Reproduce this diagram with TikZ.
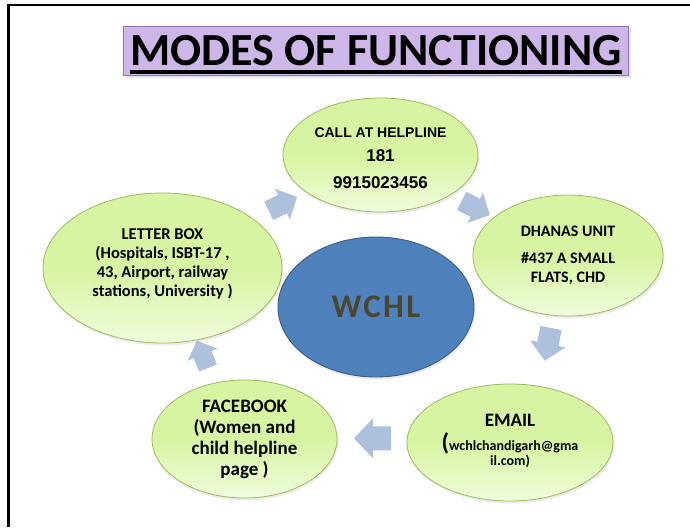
\documentclass[tikz,border=0pt]{standalone}
\usepackage{fontspec}
\setmainfont{Carlito}
\newfontfamily\arialfont{Liberation Sans}
\usetikzlibrary{shapes.geometric,shadows}
\definecolor{gtop}{HTML}{D7F4A2}
\definecolor{gbot}{HTML}{EFFCDC}
\definecolor{gborder}{HTML}{9BBB59}
\definecolor{bfill}{HTML}{4F81BD}
\definecolor{bborder}{HTML}{385D8A}
\definecolor{arrowc}{HTML}{ADC0DC}
\definecolor{tfill}{HTML}{CCB7E8}
\definecolor{tborder}{HTML}{8E72BE}
\definecolor{wtext}{HTML}{4A4631}
\tikzset{
  greenell/.style={ellipse, draw=gborder, line width=0.8pt, top color=gtop, bottom color=gbot, middle color=gtop,
    inner sep=0pt, align=center, drop shadow={opacity=0.15, shadow xshift=1pt, shadow yshift=-2.5pt}},
  blueell/.style={ellipse, draw=bborder, line width=0.9pt, fill=bfill, inner sep=0pt,
    drop shadow={opacity=0.15, shadow xshift=1pt, shadow yshift=-2.5pt}},
  titlebox/.style={draw=tborder, line width=0.8pt, fill=tfill, inner sep=0pt,
    drop shadow={opacity=0.2, shadow xshift=2.5pt, shadow yshift=-2.5pt}},
  blockarr/.pic={\fill[arrowc] (0,-12) -- (18,-12) -- (18,-20) -- (37,0) -- (18,20) -- (18,12) -- (0,12) -- cycle;}
}
\begin{document}
\begin{tikzpicture}[x=1pt,y=-1pt]
\useasboundingbox (0,0) rectangle (690,527);
\fill[white] (0,0) rectangle (690,527);
% frame
\draw[line width=2.6pt] (8.6,527) -- (8.6,5.2) -- (690,5.2);
% title
\node[titlebox, minimum width=505pt, minimum height=49pt] (title) at (375.5,50.5) {};
\node[inner sep=0pt, anchor=base, font=\fontsize{46}{46}\selectfont\bfseries] (ttext) at (376,66) {MODES OF FUNCTIONING};
\draw[line width=4pt] ([yshift=-5.5pt]ttext.base west) -- ([yshift=-5.5pt]ttext.base east);
% ellipses
\node[greenell, minimum width=195pt, minimum height=114pt, font=\arialfont\bfseries] (call) at (380.5,155)
  {\fontsize{14}{17}\selectfont\rule{0pt}{16pt}CALL AT HELPLINE\\[11pt]\fontsize{17}{20}\selectfont 181\\[14pt]\fontsize{17}{20}\selectfont 9915023456};
\node[greenell, minimum width=190pt, minimum height=121pt, font=\fontsize{16}{19}\selectfont\bfseries] (dhanas) at (568,255.5)
  {DHANAS UNIT\\[8pt]\#437 A SMALL\\FLATS, CHD};
\node[greenell, minimum width=239pt, minimum height=150pt, font=\fontsize{16.5}{19}\selectfont\bfseries] (letter) at (162.5,268)
  {LETTER BOX\\(Hospitals, ISBT-17 ,\\43, Airport, railway\\stations, University )\rule[-10pt]{0pt}{10pt}};
\node[blueell, minimum width=196pt, minimum height=140pt, text=wtext, font=\fontsize{33}{33}\selectfont\bfseries] (wchl) at (376,307)
  {\addfontfeature{LetterSpace=7}WCHL};
\node[greenell, minimum width=185pt, minimum height=118pt, font=\fontsize{19}{21}\selectfont\bfseries] (facebook) at (244.5,439)
  {FACEBOOK\\(Women and\\child helpline\\page )};
\node[greenell, minimum width=206pt, minimum height=117pt, font=\bfseries] (email) at (510,442.5)
  {\fontsize{19}{22}\selectfont EMAIL\\[5pt]{\fontsize{24}{21}\selectfont(}\fontsize{14}{17}\selectfont wchlchandigarh@gma\\\fontsize{14}{17}\selectfont il.com)\rule[-6pt]{0pt}{6pt}};
% block arrows
\pic[rotate=26, scale=0.85] at (268.7,210.8) {blockarr};
\pic[rotate=-27, scale=0.85] at (461.7,200.8) {blockarr};
\pic[rotate=-101, scale=0.9] at (551,328) {blockarr};
\pic[rotate=180, scale=1] at (391,438.3) {blockarr};
\pic[rotate=112, scale=0.8] at (208,368) {blockarr};
\end{tikzpicture}
\end{document}
